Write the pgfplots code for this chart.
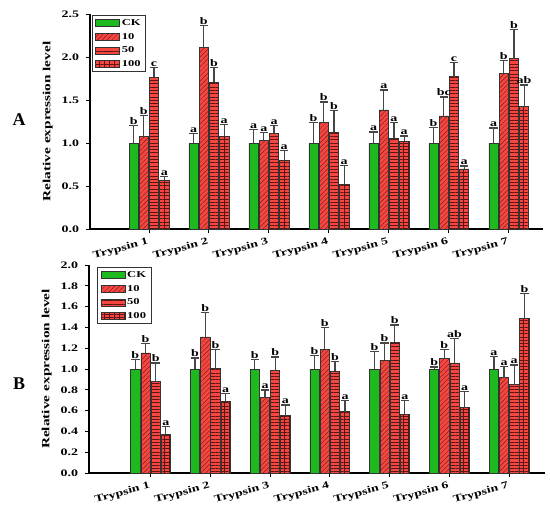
\documentclass[border=0pt]{standalone}
\usepackage{pgfplots}
\pgfplotsset{compat=1.18}
\usepackage{pgfplotstable}
\usetikzlibrary{patterns.meta}
\usepackage{fontspec}
\setmainfont{Liberation Serif}[FakeStretch=1.4]
\newfontfamily\panelfont{Liberation Serif}

\definecolor{ckgreen}{RGB}{30,185,30}
\definecolor{trred}{RGB}{245,70,64}
\definecolor{hatch}{RGB}{90,20,20}
\definecolor{errgray}{RGB}{70,70,70}

% columns: group, CK, err, letter, 10, err, letter, 50, err, letter, 100, err, letter
\pgfplotstableread{
g ck eck lck ta eta lta tb etb ltb tc etc ltc
1 1.00 0.200 b 1.078 0.242 b  1.764 0.112 c  0.566 0.047 a
2 1.00 0.108 a 2.108 0.262 b  1.709 0.167 b  1.078 0.135 a
3 1.00 0.155 a 1.031 0.089 a  1.113 0.093 a  0.802 0.108 a
4 1.00 0.236 b 1.236 0.241 b  1.124 0.252 b  0.523 0.213 a
5 1.00 0.128 a 1.384 0.232 a  1.058 0.178 a  1.023 0.058 a
6 1.00 0.178 b 1.314 0.221 bc 1.771 0.163 c  0.700 0.033 a
7 1.00 0.174 a 1.806 0.155 b  1.980 0.340 b  1.422 0.252 ab
}\tabA

\pgfplotstableread{
g ck eck lck ta eta lta tb etb ltb tc etc ltc
1 1.00 0.090 b 1.154 0.090 b 0.878 0.180 b  0.369 0.080 a
2 1.00 0.106 b 1.308 0.237 b 1.006 0.180 b  0.689 0.074 a
3 1.00 0.090 b 0.724 0.074 a 0.987 0.128 b  0.551 0.103 a
4 1.00 0.128 b 1.192 0.205 b 0.978 0.096 b  0.590 0.109 a
5 1.00 0.167 b 1.083 0.167 b 1.256 0.167 b  0.564 0.135 a
6 1.00 0.020 b 1.099 0.087 b 1.058 0.237 ab 0.628 0.154 a
7 1.00 0.122 a 0.917 0.109 a 0.849 0.189 a  1.490 0.234 b
}\tabB

\pgfplotsset{
  common/.style={
    scale only axis, clip=false,
    axis x line*=bottom, axis y line*=left,
    axis line style={line width=1.1bp, black},
    tick align=outside, major tick length=3.5bp,
    tick style={line width=0.9bp, black},
    xtick={1,2,3,4,5,6,7},
    xticklabels={Trypsin 1,Trypsin 2,Trypsin 3,Trypsin 4,Trypsin 5,Trypsin 6,Trypsin 7},
    xticklabel style={rotate=15, anchor=north east, font=\fontsize{10}{12}\selectfont\bfseries, inner sep=1bp, xshift=-2bp, yshift=-3bp},
    yticklabel style={font=\fontsize{10}{12}\selectfont\bfseries, xshift=-4bp},
    /pgf/number format/.cd, fixed, fixed zerofill, precision=1, assume math mode=true, /pgfplots/.cd,
    ylabel={Relative expression level},
    ylabel style={font=\fontsize{11}{12}\selectfont\bfseries, yshift=2bp},
    legend style={draw=black!80, line width=0.8bp, font=\fontsize{9}{10}\selectfont\bfseries,
      inner sep=2bp, row sep=2.2bp, inner xsep=3bp},
    legend cell align=left,
  },
  ser/.style={ybar, bar width=0.155, bar shift=0pt, draw=black!80, line width=0.6bp,
    error bars/y dir=plus, error bars/y explicit,
    error bars/error mark=-,
    error bars/error bar style={draw=errgray, line width=1.2bp, solid},
    error bars/error mark options={rotate=90, draw=errgray, line width=1.2bp, mark size=4.2bp, solid},
    legend image code/.code={\draw[##1] (0bp,-3.5bp) rectangle (24bp,3.5bp);}},
  sck/.style={ser, fill=ckgreen},
  sa/.style={ser, fill=trred, postaction={pattern={Lines[angle=45,distance=3.4pt,line width=0.3pt]}, pattern color=hatch}},
  sb/.style={ser, fill=trred, postaction={pattern={Lines[angle=0,distance=3.3pt,line width=0.3pt]}, pattern color=hatch}},
  sc/.style={ser, fill=trred, postaction={pattern={Lines[angle=0,distance=3.3pt,line width=0.3pt]}, pattern color=hatch},
     postaction={pattern={Lines[angle=90,distance=5pt,line width=0.3pt]}, pattern color=hatch}},
  lab/.style={only marks, mark=none, forget plot, nodes near coords, point meta=explicit symbolic,
    nodes near coords style={anchor=south, font=\fontsize{10}{11}\selectfont\bfseries, inner sep=0.8bp}},
}

\begin{document}
\begin{tikzpicture}
\useasboundingbox (0bp,0bp) rectangle (550bp,-511bp);

% ---------------- Panel A ----------------
\begin{axis}[common, at={(90bp,-229bp)}, anchor=south west, width=453bp, height=215bp,
  xmin=0.017, xmax=7.57, ymin=0, ymax=2.5, ytick={0,0.5,1.0,1.5,2.0,2.5},
  legend style={at={(0.004,0.995)}, anchor=north west}]
\addplot[sck] table[x expr=\thisrow{g}-0.255, y=ck, y error=eck]{\tabA};
\addlegendentry{CK}
\addplot[sa] table[x expr=\thisrow{g}-0.085, y=ta, y error=eta]{\tabA};
\addlegendentry{10}
\addplot[sb] table[x expr=\thisrow{g}+0.085, y=tb, y error=etb]{\tabA};
\addlegendentry{50}
\addplot[sc] table[x expr=\thisrow{g}+0.255, y=tc, y error=etc]{\tabA};
\addlegendentry{100}
\addplot[lab] table[x expr=\thisrow{g}-0.255, y expr=\thisrow{ck}+\thisrow{eck}, meta=lck]{\tabA};
\addplot[lab] table[x expr=\thisrow{g}-0.085, y expr=\thisrow{ta}+\thisrow{eta}, meta=lta]{\tabA};
\addplot[lab] table[x expr=\thisrow{g}+0.085, y expr=\thisrow{tb}+\thisrow{etb}, meta=ltb]{\tabA};
\addplot[lab] table[x expr=\thisrow{g}+0.255, y expr=\thisrow{tc}+\thisrow{etc}, meta=ltc]{\tabA};
\end{axis}

% ---------------- Panel B ----------------
\begin{axis}[common, at={(89bp,-473bp)}, anchor=south west, width=456bp, height=208bp,
  xmin=-0.03, xmax=7.6, ymin=0, ymax=2.0, ytick={0,0.2,0.4,0.6,0.8,1.0,1.2,1.4,1.6,1.8,2.0},
  legend style={at={(0.018,0.99)}, anchor=north west}]
\addplot[sck] table[x expr=\thisrow{g}-0.255, y=ck, y error=eck]{\tabB};
\addlegendentry{CK}
\addplot[sa] table[x expr=\thisrow{g}-0.085, y=ta, y error=eta]{\tabB};
\addlegendentry{10}
\addplot[sb] table[x expr=\thisrow{g}+0.085, y=tb, y error=etb]{\tabB};
\addlegendentry{50}
\addplot[sc] table[x expr=\thisrow{g}+0.255, y=tc, y error=etc]{\tabB};
\addlegendentry{100}
\addplot[lab] table[x expr=\thisrow{g}-0.255, y expr=\thisrow{ck}+\thisrow{eck}, meta=lck]{\tabB};
\addplot[lab] table[x expr=\thisrow{g}-0.085, y expr=\thisrow{ta}+\thisrow{eta}, meta=lta]{\tabB};
\addplot[lab] table[x expr=\thisrow{g}+0.085, y expr=\thisrow{tb}+\thisrow{etb}, meta=ltb]{\tabB};
\addplot[lab] table[x expr=\thisrow{g}+0.255, y expr=\thisrow{tc}+\thisrow{etc}, meta=ltc]{\tabB};
\end{axis}

\node[font=\panelfont\bfseries\fontsize{18}{20}\selectfont] at (19bp,-120bp) {A};
\node[font=\panelfont\bfseries\fontsize{18}{20}\selectfont] at (19bp,-384bp) {B};
\end{tikzpicture}
\end{document}
